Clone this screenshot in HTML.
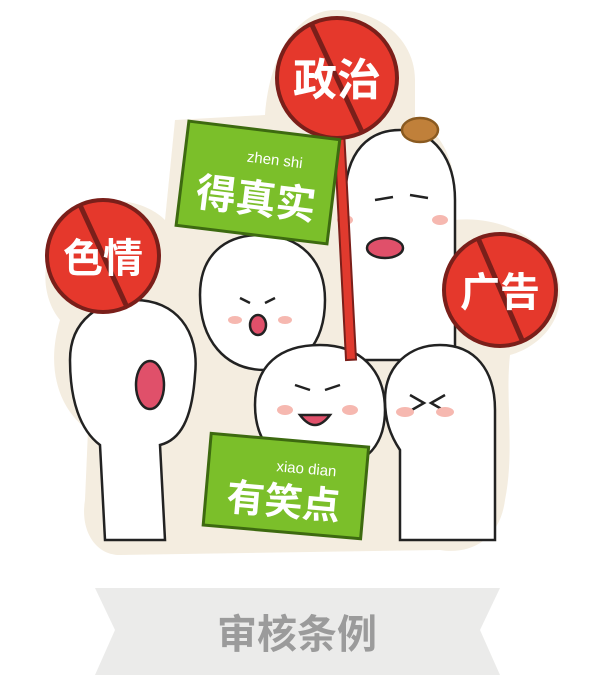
<!DOCTYPE html>
<html><head><meta charset="utf-8">
<style>
html,body{margin:0;padding:0;background:#fff;}
svg{display:block;}
text{font-family:"Liberation Sans","Noto Sans CJK SC",sans-serif;}
</style></head>
<body>
<svg width="595" height="685" viewBox="0 0 595 685">
  <!-- sticker outline -->
  <path d="M335,10 C380,10 415,40 415,80 L415,120 C440,130 460,160 455,220 C500,215 560,240 560,295 C560,330 530,350 510,355 C505,400 515,450 505,500 C500,540 470,555 440,550 L120,555 C95,555 80,530 85,500 L88,430 C60,410 45,370 60,320 C35,290 40,230 90,205 C120,195 150,205 165,220 L175,120 L265,115 C270,50 300,10 335,10 Z" fill="#f4ede0"/>
  <!-- characters -->
  <g fill="#fff" stroke="#222" stroke-width="2.5">
    <path d="M345,200 C345,150 370,130 400,130 C435,130 455,160 455,200 L455,360 L350,360 Z"/>
    <path d="M70,360 C70,320 100,300 135,300 C175,300 200,330 195,375 C192,420 180,440 160,445 L165,540 L105,540 L100,445 C80,430 70,400 70,360 Z"/>
    <path d="M200,295 C200,255 225,235 260,235 C300,235 325,260 325,300 C325,345 300,370 265,370 C225,370 200,340 200,295 Z"/>
    <path d="M255,405 C255,365 280,345 320,345 C360,345 385,370 385,410 C385,450 360,470 320,470 C280,470 255,445 255,405 Z"/>
    <path d="M385,400 C385,365 410,345 440,345 C475,345 495,370 495,410 L495,540 L400,540 L400,450 C390,435 385,420 385,400 Z"/>
  </g>
  <!-- faces -->
  <g stroke="#222" stroke-width="2.5" fill="none">
    <ellipse cx="150" cy="385" rx="14" ry="24" fill="#e0506a"/>
    <path d="M240,298 l10,5 M275,298 l-10,5"/>
    <ellipse cx="258" cy="325" rx="8" ry="10" fill="#e0506a"/>
    <path d="M375,200 l18,-3 M410,195 l18,3"/>
    <ellipse cx="385" cy="248" rx="18" ry="10" fill="#e0506a"/>
    <path d="M295,385 l15,5 M340,385 l-15,5 M300,415 q15,20 30,0 z" fill="#e0506a"/>
    <path d="M410,395 l14,8 l-14,8 M445,395 l-14,8 l14,8"/>
    <ellipse cx="420" cy="130" rx="18" ry="12" fill="#c0803a" stroke="#8a5a20"/>
  </g>
  <g fill="#f6b8b0">
    <ellipse cx="345" cy="220" rx="8" ry="5"/><ellipse cx="440" cy="220" rx="8" ry="5"/>
    <ellipse cx="235" cy="320" rx="7" ry="4"/><ellipse cx="285" cy="320" rx="7" ry="4"/>
    <ellipse cx="285" cy="410" rx="8" ry="5"/><ellipse cx="350" cy="410" rx="8" ry="5"/>
    <ellipse cx="405" cy="412" rx="9" ry="5"/><ellipse cx="445" cy="412" rx="9" ry="5"/>
  </g>
  <!-- pole -->
  <rect x="340" y="130" width="10" height="230" fill="#e03a2e" stroke="#7a1f1a" stroke-width="2" transform="rotate(-3 345 245)"/>
  <!-- red signs -->
  <g>
    <circle cx="337" cy="78" r="60" fill="#e5382c" stroke="#7a1f1a" stroke-width="4"/>
    <line x1="312" y1="25" x2="362" y2="132" stroke="#7a1f1a" stroke-width="5"/>
    <text x="337" y="95" font-size="44" font-weight="bold" fill="#fff" text-anchor="middle">政治</text>
  </g>
  <g>
    <circle cx="103" cy="256" r="56" fill="#e5382c" stroke="#7a1f1a" stroke-width="4"/>
    <line x1="80" y1="205" x2="126" y2="305" stroke="#7a1f1a" stroke-width="5"/>
    <text x="103" y="272" font-size="40" font-weight="bold" fill="#fff" text-anchor="middle">色情</text>
  </g>
  <g>
    <circle cx="500" cy="290" r="56" fill="#e5382c" stroke="#7a1f1a" stroke-width="4"/>
    <line x1="478" y1="238" x2="522" y2="340" stroke="#7a1f1a" stroke-width="5"/>
    <text x="500" y="306" font-size="40" font-weight="bold" fill="#fff" text-anchor="middle">广告</text>
  </g>
  <!-- green signs -->
  <g transform="rotate(7 258 182)">
    <rect x="182" y="130" width="152" height="105" fill="#7bbf2a" stroke="#3d6a10" stroke-width="3"/>
    <text x="272" y="163" font-size="15" fill="#fff" text-anchor="middle">zhen  shi</text>
    <text x="258" y="213" font-size="40" font-weight="bold" fill="#fff" text-anchor="middle">得真实</text>
  </g>
  <g transform="rotate(5 285 485)">
    <rect x="207" y="440" width="158" height="92" fill="#7bbf2a" stroke="#3d6a10" stroke-width="3"/>
    <text x="305" y="472" font-size="15" fill="#fff" text-anchor="middle">xiao  dian</text>
    <text x="285" y="515" font-size="38" font-weight="bold" fill="#fff" text-anchor="middle">有笑点</text>
  </g>
  <!-- banner -->
  <path d="M95,588 L500,588 L480,630 L500,675 L95,675 L115,630 Z" fill="#ebebea"/>
  <text x="297" y="648" font-size="40" font-weight="bold" fill="#9b9b9b" text-anchor="middle">审核条例</text>
</svg>
</body></html>
